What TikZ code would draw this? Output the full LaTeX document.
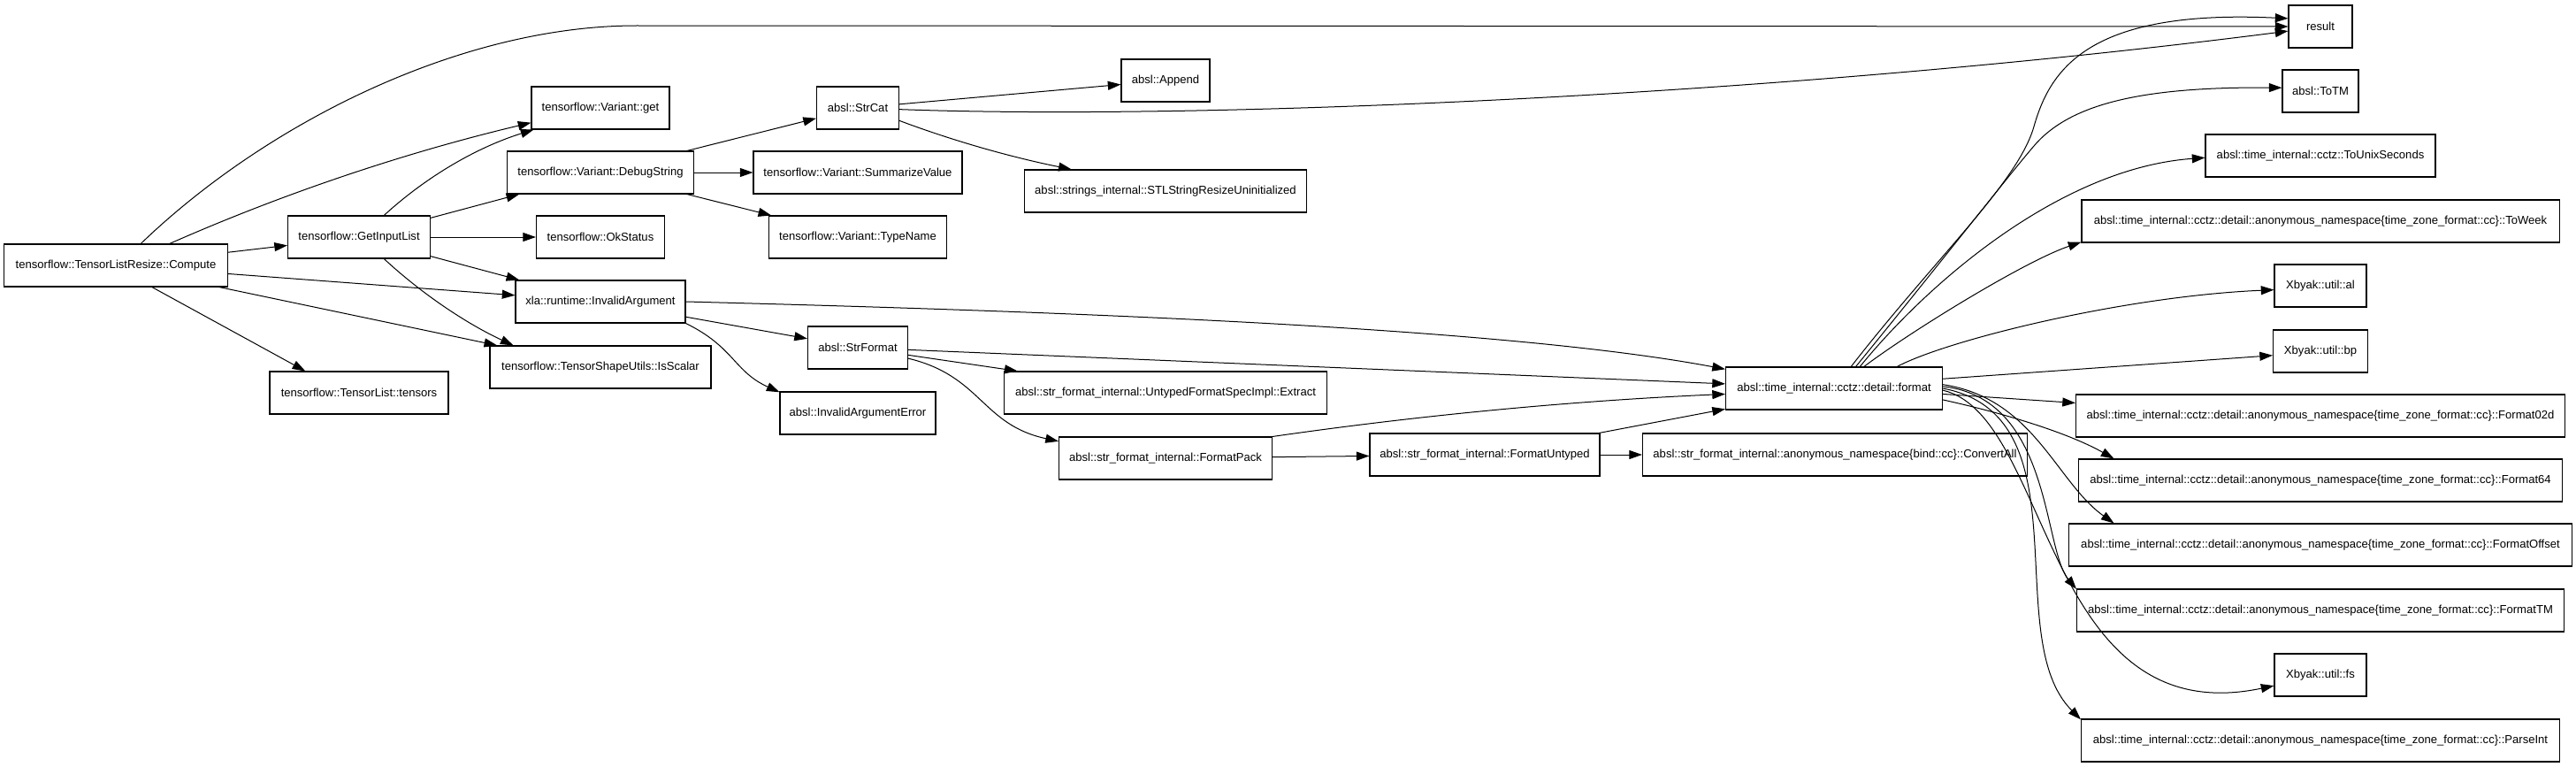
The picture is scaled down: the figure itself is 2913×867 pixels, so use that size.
\documentclass[tikz,border=0pt]{standalone}
\usepackage{fontspec}
\setmainfont{Liberation Sans}
\usetikzlibrary{arrows.meta}

\begin{document}
\begin{tikzpicture}[x=0.75pt,y=-0.75pt,
  fn/.style={draw,line width=0.8pt,minimum height=36pt,minimum width=#1*0.75pt,inner sep=1pt,font=\fontsize{9.8pt}{11pt}\selectfont},
  call/.style={-{Triangle[length=11pt,width=7.5pt]},line width=0.75pt}]
  \useasboundingbox (0,0) rectangle (2913,867);
  \node[fn=253] (c) at (131,300) {tensorflow::TensorListResize::Compute};
  \node[fn=161] (gil) at (406,268) {tensorflow::GetInputList};
  \node[fn=202] (ts) at (406,444) {tensorflow::TensorList::tensors};
  \node[fn=156] (get) at (679,122) {tensorflow::Variant::get};
  \node[fn=211] (ds) at (679,195) {tensorflow::Variant::DebugString};
  \node[fn=145] (ok) at (679,268) {tensorflow::OkStatus};
  \node[fn=192] (ia) at (679,341) {xla::runtime::InvalidArgument};
  \node[fn=250] (isc) at (679,415) {tensorflow::TensorShapeUtils::IsScalar};
  \node[fn=93] (sc) at (970,122) {absl::StrCat};
  \node[fn=236] (sv) at (970,195) {tensorflow::Variant::SummarizeValue};
  \node[fn=201] (tn) at (970,268) {tensorflow::Variant::TypeName};
  \node[fn=113] (sf) at (970,393) {absl::StrFormat};
  \node[fn=176] (ie) at (970,467) {absl::InvalidArgumentError};
  \node[fn=100] (ap) at (1318,91) {absl::Append};
  \node[fn=319] (stl) at (1318,216) {absl::strings\_internal::STLStringResizeUninitialized};
  \node[fn=365] (ex) at (1318,444) {absl::str\_format\_internal::UntypedFormatSpecImpl::Extract};
  \node[fn=241] (fp) at (1318,518) {absl::str\_format\_internal::FormatPack};
  \node[fn=260] (fu) at (1679,514) {absl::str\_format\_internal::FormatUntyped};
  \node[fn=245] (fmt) at (2074,439) {absl::time\_internal::cctz::detail::format};
  \node[fn=435] (ca) at (2075,514) {absl::str\_format\_internal::anonymous\_namespace\{bind::cc\}::ConvertAll};
  \node[fn=72] (res) at (2624,30) {result};
  \node[fn=86] (tm) at (2624,103) {absl::ToTM};
  \node[fn=260] (tus) at (2624,176) {absl::time\_internal::cctz::ToUnixSeconds};
  \node[fn=540] (tw) at (2624,250) {absl::time\_internal::cctz::detail::anonymous\_namespace\{time\_zone\_format::cc\}::ToWeek};
  \node[fn=104] (al) at (2624,323) {Xbyak::util::al};
  \node[fn=107] (bp) at (2624,397) {Xbyak::util::bp};
  \node[fn=553] (f02) at (2624,470) {absl::time\_internal::cctz::detail::anonymous\_namespace\{time\_zone\_format::cc\}::Format02d};
  \node[fn=547] (f64) at (2624,543) {absl::time\_internal::cctz::detail::anonymous\_namespace\{time\_zone\_format::cc\}::Format64};
  \node[fn=569] (fo) at (2624,616) {absl::time\_internal::cctz::detail::anonymous\_namespace\{time\_zone\_format::cc\}::FormatOffset};
  \node[fn=551] (ftm) at (2624,690) {absl::time\_internal::cctz::detail::anonymous\_namespace\{time\_zone\_format::cc\}::FormatTM};
  \node[fn=104] (fs) at (2624,763) {Xbyak::util::fs};
  \node[fn=541] (pi) at (2624,837) {absl::time\_internal::cctz::detail::anonymous\_namespace\{time\_zone\_format::cc\}::ParseInt};
  \draw[call] (c.41) .. controls (300,140) and (520,29) .. (720,29) -- (res.west);
  \draw[call] (c.22) .. controls (322,218) and (460,172) .. (get.192);
  \draw[call] (c) -- (gil);
  \draw[call] (c) -- (ia);
  \draw[call] (c) -- (isc);
  \draw[call] (c.-31) -- (ts.158);
  \draw[call] (gil.41) .. controls (484,198) and (541,166) .. (get.198);
  \draw[call] (gil) -- (ds);
  \draw[call] (gil) -- (ok);
  \draw[call] (gil) -- (ia);
  \draw[call] (gil.-41) .. controls (478,333) and (528,366) .. (isc.166);
  \draw[call] (ds) -- (sc);
  \draw[call] (ds) -- (sv);
  \draw[call] (ds) -- (tn);
  \draw[call] (sc) -- (ap);
  \draw[call] (sc.-2) .. controls (1350,136) and (2000,110) .. (res.188);
  \draw[call] (sc.-17) .. controls (1080,160) and (1145,178) .. (stl.167);
  \draw[call] (ia.east) .. controls (1200,352) and (1700,370) .. (fmt.170);
  \draw[call] (ia) -- (sf);
  \draw[call] (ia.south east) .. controls (830,392) and (830,420) .. (ie.165);
  \draw[call] (sf) -- (fmt);
  \draw[call] (sf) -- (ex);
  \draw[call] (sf.-12) .. controls (1110,425) and (1110,480) .. (fp.171.5);
  \draw[call] (fp.north east) .. controls (1609,469) and (1780,453) .. (fmt.183);
  \draw[call] (fp) -- (fu);
  \draw[call] (fu) -- (fmt);
  \draw[call] (fu) -- (ca);
  \draw[call] (fmt.52) .. controls (2190,290) and (2282,206) .. (2300,143) .. controls (2318,80) and (2360,10) .. (res.166);
  \draw[call] (fmt.45) .. controls (2200,290) and (2270,200) .. (2300,165) .. controls (2340,118) and (2420,98) .. (tm.175);
  \draw[call] (fmt.40) .. controls (2180,320) and (2330,190) .. (tus.181);
  \draw[call] (fmt.36) .. controls (2160,375) and (2290,295) .. (tw.185.4);
  \draw[call] (fmt.19) .. controls (2200,385) and (2400,335) .. (al.185.5);
  \draw[call] (fmt.5) -- (bp.185);
  \draw[call] (fmt.-3) -- (f02.177);
  \draw[call] (fmt.-6) .. controls (2270,468) and (2340,490) .. (f64.174.5);
  \draw[call] (fmt.2) .. controls (2300,450) and (2325,545) .. (fo.174.9);
  \draw[call] (fmt.1) .. controls (2320,450) and (2310,620) .. (ftm.175);
  \draw[call] (fmt.0) .. controls (2360,470) and (2260,720) .. (pi.175);
  \draw[call] (fmt.-1) .. controls (2320,470) and (2310,830) .. (fs.193);
\end{tikzpicture}
\end{document}
